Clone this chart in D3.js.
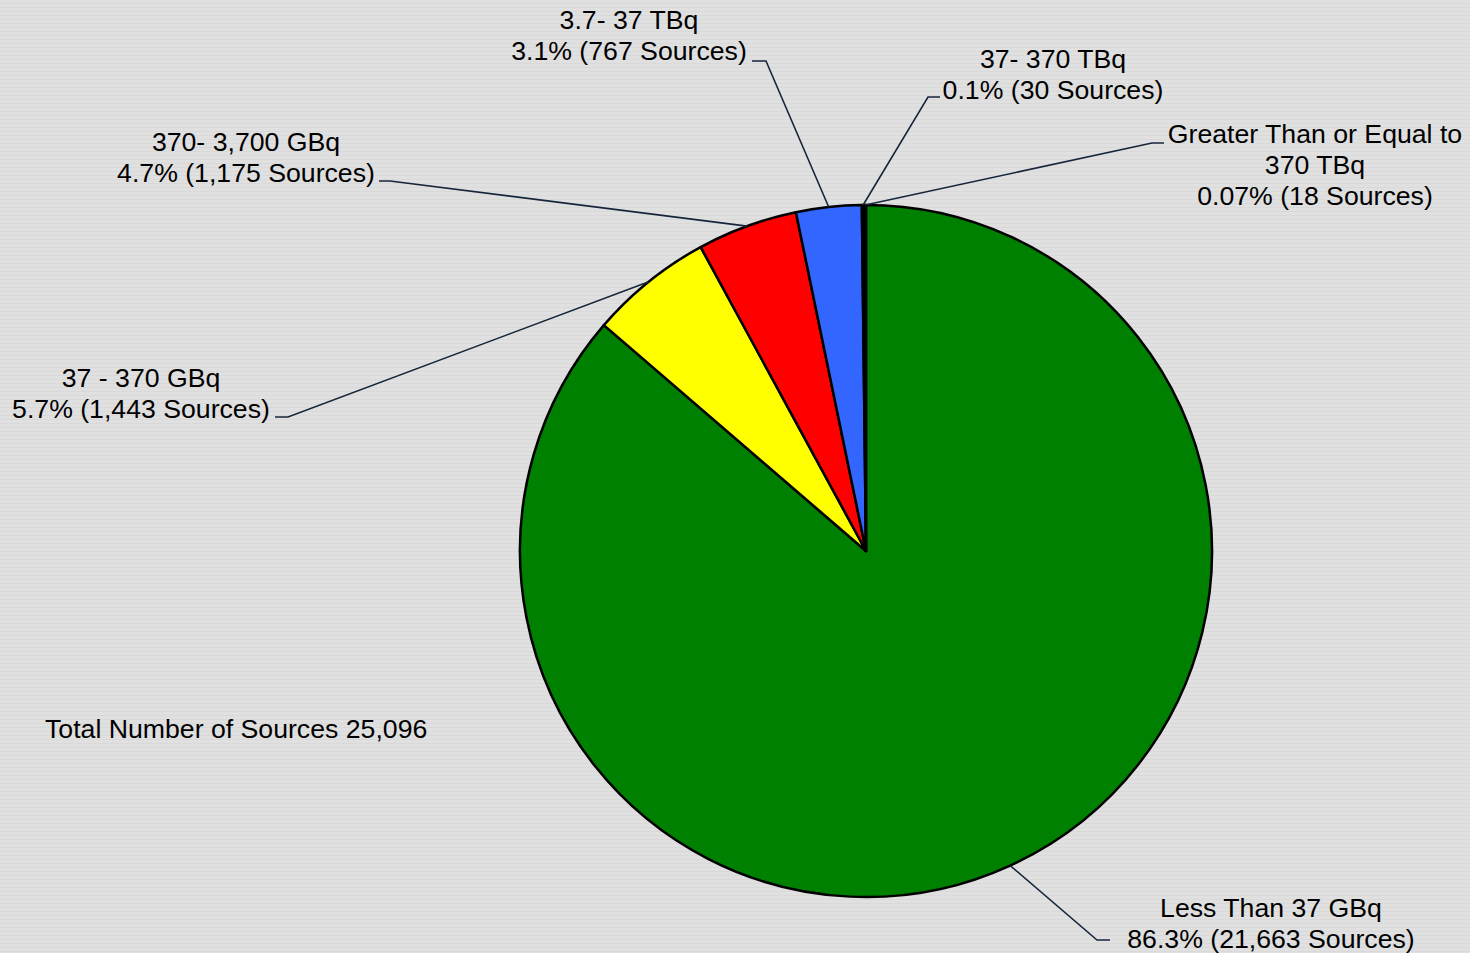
<!DOCTYPE html>
<html>
<head>
<meta charset="utf-8">
<script src="https://cdn.jsdelivr.net/npm/d3@7"></script>
<style>
  html, body { margin: 0; padding: 0; background: #dfdfdf; }
  svg { display: block; }
</style>
</head>
<body>
<div id="chart"></div>
<script>
// source counts by activity range
const categories = ["Less Than 37 GBq", "37 - 370 GBq", "370- 3,700 GBq", "3.7- 37 TBq", "37- 370 TBq", "Greater Than or Equal to|370 TBq"];
const counts = [21663, 1443, 1175, 767, 30, 18];
const pctLabels = ["86.3%", "5.7%", "4.7%", "3.1%", "0.1%", "0.07%"];
const totalLabel = "Total Number of Sources 25,096";

const colors = ["#008000", "#ffff00", "#ff0000", "#3366ff", "#000000", "#111111"];

// label layout: text centre x, first baseline y, elbow point, line end point
const labelLayout = [
  {x: 1271, y: 917, elbow: [1097, 940], end: [1110, 940]},
  {x: 141,  y: 387, elbow: [288, 417],  end: [275, 417]},
  {x: 246,  y: 151, elbow: [390, 181],  end: [379, 181]},
  {x: 629,  y: 29,  elbow: [766, 61],   end: [752, 61]},
  {x: 1053, y: 68,  elbow: [928, 97],   end: [940, 97]},
  {x: 1315, y: 143, elbow: [1152, 143], end: [1164, 143]}
];

const width = 1470, height = 953;
const cx = 866, cy = 551, radius = 346;
const fontSize = 26.67;
const fmt = d3.format(",");

const svg = d3.select("#chart")
  .append("svg")
    .attr("width", width)
    .attr("height", height);

// faint horizontal texture on the background
const defs = svg.append("defs");
const pat = defs.append("pattern")
    .attr("id", "bg")
    .attr("width", 8)
    .attr("height", 4)
    .attr("patternUnits", "userSpaceOnUse");
pat.append("rect").attr("width", 8).attr("height", 4).attr("fill", "#e0e0e0");
pat.append("rect").attr("y", 3).attr("width", 8).attr("height", 1).attr("fill", "#d9d9d9");

svg.append("rect")
    .attr("width", width)
    .attr("height", height)
    .attr("fill", "url(#bg)");

const data = categories.map((c, i) => ({name: c, value: counts[i], pct: pctLabels[i], idx: i}));

const pie = d3.pie()
    .value(d => d.value)
    .sort(null);

const arcs = pie(data);

const arc = d3.arc()
    .innerRadius(0)
    .outerRadius(radius);

const g = svg.append("g")
    .attr("transform", "translate(" + cx + "," + cy + ")");

g.selectAll("path.slice")
  .data(arcs)
  .join("path")
    .attr("class", "slice")
    .attr("d", arc)
    .attr("fill", (d, i) => colors[i])
    .attr("stroke", "#000")
    .attr("stroke-width", 2.5)
    .attr("stroke-linejoin", "round");

// leader lines from slice mid angle on the rim
svg.selectAll("polyline.leader")
  .data(arcs)
  .join("polyline")
    .attr("class", "leader")
    .attr("fill", "none")
    .attr("stroke", "#16263a")
    .attr("stroke-width", 1.6)
    .attr("points", (d, i) => {
      const a = (d.startAngle + d.endAngle) / 2;
      const p0 = [cx + radius * Math.sin(a), cy - radius * Math.cos(a)];
      const L = labelLayout[i];
      return [p0, L.elbow, L.end].map(p => p.join(",")).join(" ");
    });

// labels
const labels = svg.selectAll("text.lbl")
  .data(data)
  .join("text")
    .attr("class", "lbl")
    .attr("text-anchor", "middle")
    .attr("font-family", "'Liberation Sans', Arial, sans-serif")
    .attr("font-size", fontSize)
    .attr("fill", "#000");

labels.each(function(d, i) {
  const L = labelLayout[i];
  const lines = d.name.split("|").concat([d.pct + " (" + fmt(d.value) + " Sources)"]);
  d3.select(this).selectAll("tspan")
    .data(lines)
    .join("tspan")
      .attr("x", L.x)
      .attr("y", (t, j) => L.y + j * 31)
      .text(t => t);
});

svg.append("text")
    .attr("x", 45)
    .attr("y", 738)
    .attr("font-family", "'Liberation Sans', Arial, sans-serif")
    .attr("font-size", fontSize)
    .attr("fill", "#000")
    .text(totalLabel);
</script>
</body>
</html>
